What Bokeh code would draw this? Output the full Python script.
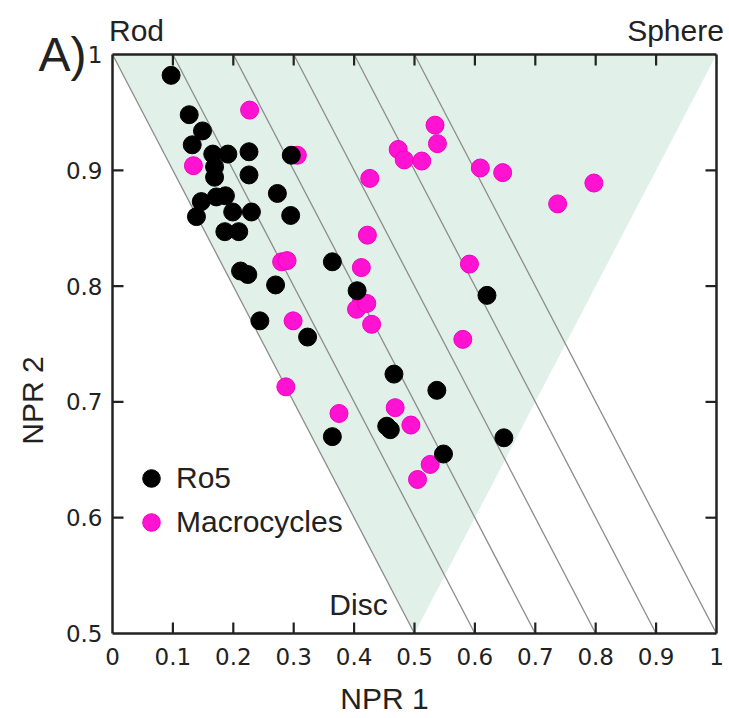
import math
from bokeh.plotting import figure
from bokeh.models import (Range1d, LinearAxis, FixedTicker, Label, Legend, LegendItem)
from bokeh.embed import file_html
from bokeh.resources import INLINE

# ---------------- data ----------------
ro5_npr1 = [0.097, 0.127, 0.149, 0.132, 0.166, 0.191, 0.226, 0.296, 0.169, 0.169,
            0.226, 0.273, 0.147, 0.172, 0.187, 0.139, 0.199, 0.230, 0.295, 0.186,
            0.209, 0.212, 0.224, 0.364, 0.270, 0.244, 0.323, 0.405, 0.466, 0.537,
            0.454, 0.460, 0.364, 0.648, 0.548, 0.620]
ro5_npr2 = [0.982, 0.948, 0.934, 0.922, 0.914, 0.914, 0.916, 0.913, 0.903, 0.894,
            0.896, 0.880, 0.873, 0.877, 0.878, 0.860, 0.864, 0.864, 0.861, 0.847,
            0.847, 0.813, 0.810, 0.821, 0.801, 0.770, 0.756, 0.796, 0.724, 0.710,
            0.679, 0.676, 0.670, 0.669, 0.655, 0.792]

macro_npr1 = [0.227, 0.134, 0.306, 0.280, 0.289, 0.299, 0.287, 0.375, 0.412, 0.412,
              0.404, 0.421, 0.429, 0.426, 0.422, 0.534, 0.538, 0.473, 0.483, 0.512,
              0.609, 0.646, 0.797, 0.737, 0.591, 0.580, 0.468, 0.494, 0.526, 0.505]
macro_npr2 = [0.952, 0.904, 0.913, 0.821, 0.822, 0.770, 0.713, 0.690, 0.816, 0.786,
              0.780, 0.785, 0.767, 0.893, 0.844, 0.939, 0.923, 0.918, 0.909, 0.908,
              0.902, 0.898, 0.889, 0.871, 0.819, 0.754, 0.695, 0.680, 0.646, 0.633]

# PMI triangle corners (rod, sphere, disc)
tri_npr1 = [0.0, 1.0, 0.5]
tri_npr2 = [1.0, 1.0, 0.5]
# iso lines NPR1 + NPR2 = const
iso_sums = [1.0, 1.1, 1.2, 1.3, 1.4, 1.5]

x_lim = (0.0, 1.0)
y_lim = (0.5, 1.0)
x_ticks = [0, 0.1, 0.2, 0.3, 0.4, 0.5, 0.6, 0.7, 0.8, 0.9, 1]
y_ticks = [0.5, 0.6, 0.7, 0.8, 0.9, 1]
x_tick_labels = {0: "0", 1: "1"}
y_tick_labels = {1: "1"}

INK = "#222222"
tick_font = "DejaVu Sans"
lab_font = "Liberation Sans"

# ---------------- layout (pixels) ----------------
W, H = 726, 718
PX_LEFT, PX_RIGHT, PX_TOP, PX_BOTTOM = 112, 716, 54, 633   # where the axis box sits
sx = (PX_RIGHT - PX_LEFT) / (x_lim[1] - x_lim[0])
sy = (PX_BOTTOM - PX_TOP) / (y_lim[1] - y_lim[0])
x_range = Range1d(x_lim[0] - PX_LEFT / sx, x_lim[1] + (W - PX_RIGHT) / sx)
y_range = Range1d(y_lim[0] - (H - PX_BOTTOM) / sy, y_lim[1] + PX_TOP / sy)

p = figure(width=W, height=H, output_backend="svg", toolbar_location=None, title=None,
           x_range=x_range, y_range=y_range, x_axis_location=None, y_axis_location=None,
           min_border=0)
p.grid.visible = False
p.outline_line_color = None
p.background_fill_color = "white"
p.border_fill_color = "white"

p.patch(tri_npr1, tri_npr2, fill_color="#e1f1ea", line_color=None)

for s in iso_sums:
    p.line([s - y_lim[1], s - y_lim[0]], [y_lim[1], y_lim[0]], line_color="#8c8c8c",
           line_width=1.3)

mac = p.scatter(macro_npr1, macro_npr2, size=18, fill_color="#ff12d2", line_color="#f000c0",
                line_width=1)
ro5 = p.scatter(ro5_npr1, ro5_npr2, size=18, fill_color="black", line_color="black")

# inward ticks on all four sides
inner_x = x_ticks[1:-1]
inner_y = y_ticks[1:-1]
p.ray(x=inner_x, y=[y_lim[0]] * len(inner_x), length=11, angle=math.pi / 2,
      length_units="screen", line_color=INK, line_width=2.2)
p.ray(x=inner_x, y=[y_lim[1]] * len(inner_x), length=11, angle=-math.pi / 2,
      length_units="screen", line_color=INK, line_width=2.2)
p.ray(x=[x_lim[0]] * len(inner_y), y=inner_y, length=11, angle=0,
      length_units="screen", line_color=INK, line_width=2.2)
p.ray(x=[x_lim[1]] * len(inner_y), y=inner_y, length=11, angle=math.pi,
      length_units="screen", line_color=INK, line_width=2.2)


def box_axis(place, fixed, bounds, ticks, labels=None, standoff=10):
    ax = LinearAxis(ticker=FixedTicker(ticks=ticks), fixed_location=fixed, bounds=bounds,
                    major_tick_in=0, major_tick_out=0, major_tick_line_color=None,
                    minor_tick_line_color=None, axis_line_color=INK, axis_line_width=2.5,
                    major_label_text_font=tick_font, major_label_text_font_size="23px",
                    major_label_text_color=INK, major_label_standoff=standoff)
    if labels is not None:
        ax.major_label_overrides = labels
    p.add_layout(ax, place)
    return ax


box_axis("below", y_lim[0], x_lim, x_ticks, x_tick_labels, standoff=14)
box_axis("left", x_lim[0], y_lim, y_ticks, y_tick_labels, standoff=10)
box_axis("above", y_lim[1], x_lim, [])
box_axis("right", x_lim[1], y_lim, [])


def label(text, x, y, dx, dy, size="30px", angle=0.0):
    p.add_layout(Label(x=x, y=y, x_offset=dx, y_offset=dy, text=text, text_font=lab_font,
                       text_font_size=size, text_color=INK, text_align="center",
                       text_baseline="middle", angle=angle))


label("Rod", x_lim[0], y_lim[1], 24, 24)
label("Sphere", x_lim[1], y_lim[1], -41, 24)
label("A)", x_lim[0], y_lim[1], -50, 0, size="48px")
label("Disc", 0.5, y_lim[0], -56, 29)
label("NPR 1", 0.5, y_lim[0], -30, -65)
label("NPR 2", x_lim[0], y_lim[0], -80, 233, angle=math.pi / 2)

legend = Legend(items=[LegendItem(label="Ro5", renderers=[ro5]),
                       LegendItem(label="Macrocycles", renderers=[mac])],
                location=(126, H - 544), background_fill_alpha=0, border_line_color=None,
                label_text_font=lab_font, label_text_font_size="30px",
                label_text_color=INK, glyph_width=50, glyph_height=44,
                spacing=-4, label_standoff=0, padding=0, margin=0)
p.add_layout(legend)

open("out.html", "w").write(file_html(p, INLINE))
